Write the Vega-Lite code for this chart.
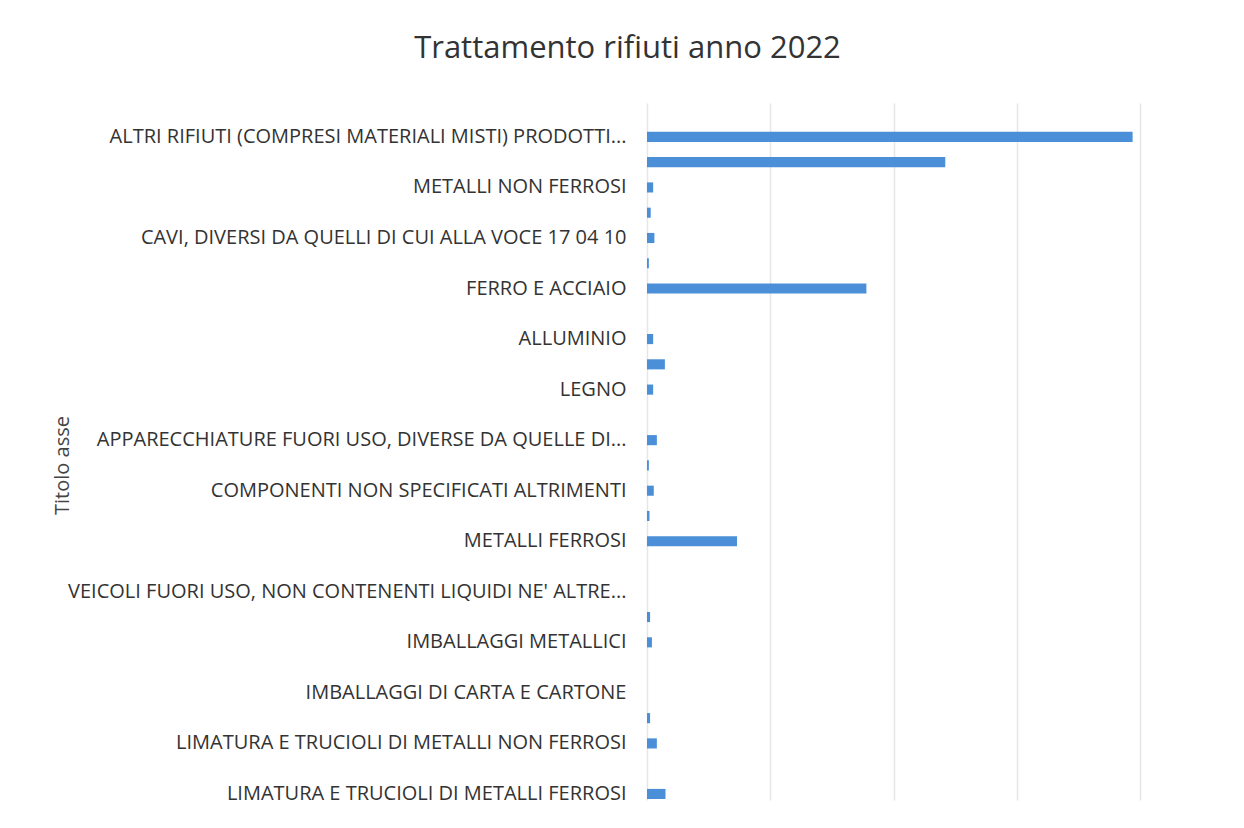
{
  "$schema": "https://vega.github.io/schema/vega-lite/v6.json",
  "autosize": "none",
  "width": 493,
  "height": 697,
  "padding": {"left": 647, "top": 103, "right": 104, "bottom": 28},
  "background": "white",
  "title": {
    "text": "Trattamento rifiuti anno 2022",
    "font": "Open Sans",
    "fontSize": 31,
    "fontWeight": "normal",
    "color": "#333333",
    "anchor": "middle",
    "dx": -266,
    "offset": 38
  },
  "config": {
    "view": {"stroke": null},
    "axis": {"labelFont": "Open Sans", "titleFont": "Open Sans"}
  },
  "data": {
    "values": [
      {"voce": "ALTRI RIFIUTI (COMPRESI MATERIALI MISTI) PRODOTTI...", "valore": 3.94},
      {"voce": " ", "valore": 2.42},
      {"voce": "METALLI NON FERROSI", "valore": 0.05},
      {"voce": "  ", "valore": 0.03},
      {"voce": "CAVI, DIVERSI DA QUELLI DI CUI ALLA VOCE 17 04 10", "valore": 0.06},
      {"voce": "   ", "valore": 0.015},
      {"voce": "FERRO E ACCIAIO", "valore": 1.78},
      {"voce": "    ", "valore": 0},
      {"voce": "ALLUMINIO", "valore": 0.05},
      {"voce": "     ", "valore": 0.145},
      {"voce": "LEGNO", "valore": 0.05},
      {"voce": "      ", "valore": 0},
      {"voce": "APPARECCHIATURE FUORI USO, DIVERSE DA QUELLE DI...", "valore": 0.08},
      {"voce": "       ", "valore": 0.015},
      {"voce": "COMPONENTI NON SPECIFICATI ALTRIMENTI", "valore": 0.055},
      {"voce": "        ", "valore": 0.02},
      {"voce": "METALLI FERROSI", "valore": 0.73},
      {"voce": "         ", "valore": 0},
      {"voce": "VEICOLI FUORI USO, NON CONTENENTI LIQUIDI NE' ALTRE...", "valore": 0},
      {"voce": "          ", "valore": 0.025},
      {"voce": "IMBALLAGGI METALLICI", "valore": 0.04},
      {"voce": "           ", "valore": 0},
      {"voce": "IMBALLAGGI DI CARTA E CARTONE", "valore": 0},
      {"voce": "            ", "valore": 0.025},
      {"voce": "LIMATURA E TRUCIOLI DI METALLI NON FERROSI", "valore": 0.08},
      {"voce": "             ", "valore": 0},
      {"voce": "LIMATURA E TRUCIOLI DI METALLI FERROSI", "valore": 0.15}
    ]
  },
  "mark": {"type": "bar", "color": "#4a8fd8"},
  "encoding": {
    "y": {
      "field": "voce",
      "type": "nominal",
      "sort": null,
      "scale": {"paddingInner": 0.6, "paddingOuter": 0.59, "align": 0.967},
      "axis": {
        "title": "Titolo asse",
        "titleFontSize": 20,
        "titleFontWeight": "normal",
        "titleColor": "#444444",
        "titleAngle": -90,
        "titleX": -585,
        "titleY": 362,
        "titleAlign": "center",
        "titleBaseline": "middle",
        "labelFontSize": 20,
        "labelColor": "#333333",
        "labelPadding": 21,
        "labelLimit": 700,
        "ticks": false,
        "domain": false,
        "grid": false
      }
    },
    "x": {
      "field": "valore",
      "type": "quantitative",
      "scale": {"domain": [0, 4], "nice": false},
      "axis": {
        "title": null,
        "labels": false,
        "ticks": false,
        "domain": false,
        "values": [0, 1, 2, 3, 4],
        "grid": true,
        "gridColor": "#e6e6e6",
        "gridWidth": 1.5
      }
    }
  }
}
